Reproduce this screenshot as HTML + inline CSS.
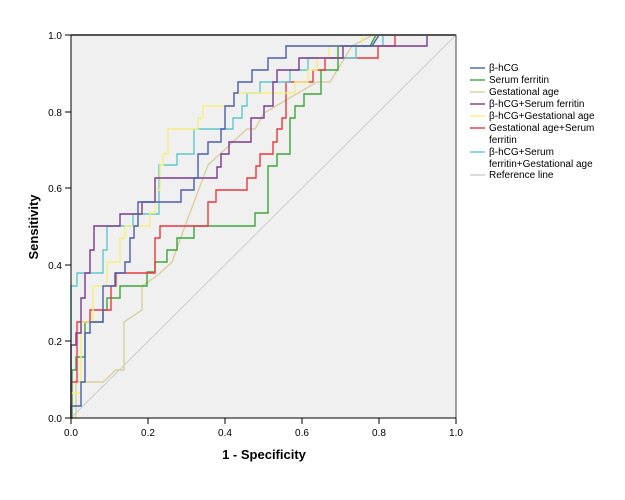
<!DOCTYPE html>
<html><head><meta charset="utf-8"><style>body{margin:0;background:#fff}svg{display:block;font-family:"Liberation Sans",sans-serif}</style></head><body>
<svg width="625" height="500" viewBox="0 0 625 500">
<rect x="0" y="0" width="625" height="500" fill="#fff"/>
<rect x="71" y="35" width="385" height="383" fill="#f0f0f0"/>
<line x1="71" y1="418" x2="456" y2="35" stroke="#cccccc" stroke-width="1"/>
<g fill="none" stroke-width="1.4">
<polyline stroke="#d9cf9e" points="71,418 76,418 76,382 103,382 116,370 124,370 124,322 142,310 142,286 158,275 172,262 188,218 208,165 247,129 255,129 264,113 317,82 330,82 352,46 373,35 456,35"/>
<polyline stroke="#3da63d" points="71,418 72,418 72,370 76,370 76,357 85,357 85,322 103,322 103,310 107,310 107,298 120,298 120,286 147,286 147,272 155,272 155,262 167,262 167,250 177,250 177,238 194,238 194,226 255,226 255,213 268,213 268,166 277,166 277,154 290,154 290,118 295,118 295,106 304,106 304,94 321,94 321,70 338,70 338,46 370,46 376,35 456,35"/>
<polyline stroke="#e8393d" points="71,418 71,382 77,382 77,322 90,322 90,310 111,310 111,286 116,286 116,273 155,273 155,238 160,238 160,226 208,226 208,202 216,202 216,190 247,190 247,178 256,178 256,166 260,166 260,154 273,154 273,142 277,142 277,129 282,129 282,118 286,118 286,82 313,82 313,70 325,70 325,58 378,58 378,46 395,46 395,35 456,35"/>
<polyline stroke="#5ec8cc" points="71,418 71,286 77,286 77,273 103,273 103,250 107,250 107,226 133,226 133,214 159,214 159,202 159,165 177,165 177,154 194,154 194,129 233,129 233,118 242,118 242,106 247,106 247,93 260,93 260,82 290,82 290,70 308,70 308,58 356,58 356,46 383,46 383,35 456,35"/>
<polyline stroke="#f5f07e" points="71,418 71,393 81,393 81,322 93,322 93,286 107,286 107,262 120,262 120,238 125,238 125,226 150,226 150,213 155,213 155,190 160,190 160,165 163,165 163,154 168,154 168,129 198,129 198,118 203,118 203,106 234,106 234,93 295,93 295,82 308,82 308,70 317,70 317,58 329,58 329,46 362,46 362,35 456,35"/>
<polyline stroke="#7b3b8e" points="71,418 71,345 76,345 76,333 81,333 81,298 85,298 85,273 90,273 90,250 94,250 94,226 120,226 120,214 142,214 142,202 155,202 155,178 217,178 217,167 221,167 221,154 229,154 229,142 251,142 251,118 264,118 264,106 273,106 273,82 277,82 277,70 299,70 299,58 343,58 343,46 427,46 427,35 456,35"/>
<polyline stroke="#4a5fae" points="71,418 71,406 81,406 81,382 85,382 85,333 90,333 90,322 103,322 103,286 115,286 115,273 125,273 125,262 130,262 130,238 134,238 134,226 138,226 138,202 181,202 181,190 194,190 194,178 198,178 198,154 208,154 208,142 221,142 221,129 225,129 225,106 234,106 234,93 238,93 238,82 252,82 252,70 268,70 268,58 286,58 286,46 372,46 379,35 456,35"/>
</g>
<rect x="71" y="35" width="385" height="383" fill="none" stroke="#444" stroke-width="1"/>
<line x1="71" y1="35" x2="456" y2="35" stroke="#555" stroke-width="2"/>
<g stroke="#000" stroke-width="1">
<line x1="71" y1="35" x2="71" y2="424"/>
<line x1="65" y1="418" x2="456" y2="418"/>
<line x1="65" y1="35" x2="71" y2="35"/><line x1="65" y1="112" x2="71" y2="112"/><line x1="65" y1="188" x2="71" y2="188"/><line x1="65" y1="265" x2="71" y2="265"/><line x1="65" y1="341" x2="71" y2="341"/>
<line x1="148" y1="418" x2="148" y2="424"/><line x1="225" y1="418" x2="225" y2="424"/><line x1="302" y1="418" x2="302" y2="424"/><line x1="379" y1="418" x2="379" y2="424"/><line x1="456" y1="418" x2="456" y2="424"/>
</g>
<g font-size="10" fill="#000" text-anchor="end">
<text x="62" y="39">1.0</text><text x="62" y="116">0.8</text><text x="62" y="192">0.6</text><text x="62" y="269">0.4</text><text x="62" y="345">0.2</text><text x="62" y="422">0.0</text>
</g>
<g font-size="10" fill="#000" text-anchor="middle">
<text x="71" y="436">0.0</text><text x="148" y="436">0.2</text><text x="225" y="436">0.4</text><text x="302" y="436">0.6</text><text x="379" y="436">0.8</text><text x="456" y="436">1.0</text>
</g>
<text x="264" y="459" font-size="13" font-weight="bold" text-anchor="middle">1 - Specificity</text>
<text x="38" y="227" font-size="13" font-weight="bold" text-anchor="middle" transform="rotate(-90 38 227)">Sensitivity</text>
<g stroke-width="1.4">
<line x1="470" y1="68" x2="485" y2="68" stroke="#4a5fae"/>
<line x1="470" y1="80" x2="485" y2="80" stroke="#3da63d"/>
<line x1="470" y1="92" x2="485" y2="92" stroke="#d9cf9e"/>
<line x1="470" y1="104" x2="485" y2="104" stroke="#7b3b8e"/>
<line x1="470" y1="116" x2="485" y2="116" stroke="#f5f07e"/>
<line x1="470" y1="128" x2="485" y2="128" stroke="#e8393d"/>
<line x1="470" y1="152" x2="485" y2="152" stroke="#5ec8cc"/>
<line x1="470" y1="175" x2="485" y2="175" stroke="#cccccc"/>
</g>
<g font-size="10" fill="#000">
<text x="489" y="71">β-hCG</text>
<text x="489" y="83">Serum ferritin</text>
<text x="489" y="95">Gestational age</text>
<text x="489" y="107">β-hCG+Serum ferritin</text>
<text x="489" y="119">β-hCG+Gestational age</text>
<text x="489" y="131">Gestational age+Serum</text>
<text x="489" y="143">ferritin</text>
<text x="489" y="155">β-hCG+Serum</text>
<text x="489" y="167">ferritin+Gestational age</text>
<text x="489" y="178">Reference line</text>
</g>
</svg>
</body></html>
